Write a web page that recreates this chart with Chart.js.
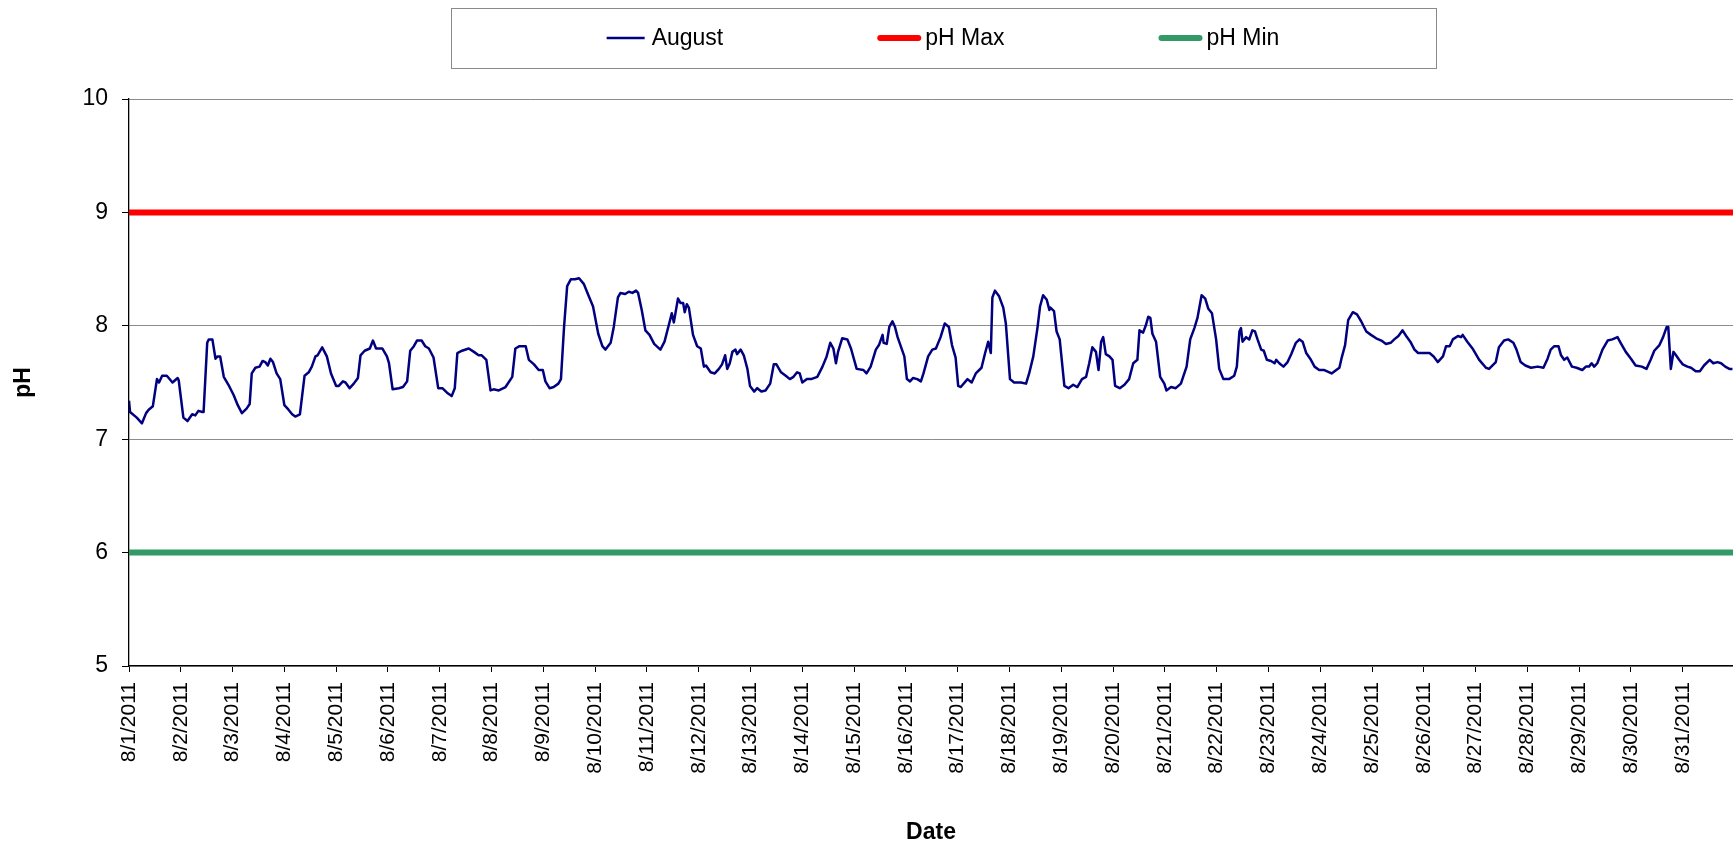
<!DOCTYPE html>
<html>
<head>
<meta charset="utf-8">
<title>pH - August 2011</title>
<script src="https://cdn.jsdelivr.net/npm/chart.js@4.4.1/dist/chart.umd.min.js"></script>
<style>
  html, body { margin: 0; padding: 0; background: #fff; }
  #wrap { width: 1733px; height: 846px; position: relative; }
</style>
</head>
<body>
<div id="wrap"><canvas id="phChart"></canvas></div>
<script>
const FONT = "'Liberation Sans', Arial, sans-serif";

// x axis tick labels (one per day)
const dateLabels = [
    '8/1/2011', '8/2/2011', '8/3/2011', '8/4/2011', '8/5/2011', '8/6/2011', '8/7/2011', '8/8/2011',
    '8/9/2011', '8/10/2011', '8/11/2011', '8/12/2011', '8/13/2011', '8/14/2011', '8/15/2011', '8/16/2011',
    '8/17/2011', '8/18/2011', '8/19/2011', '8/20/2011', '8/21/2011', '8/22/2011', '8/23/2011', '8/24/2011',
    '8/25/2011', '8/26/2011', '8/27/2011', '8/28/2011', '8/29/2011', '8/30/2011', '8/31/2011'
];

// time of each reading, in days since 8/1/2011 00:00
const days = [
    0.00, 0.02, 0.15, 0.25, 0.33, 0.38, 0.46, 0.54, 0.58, 0.64, 0.73, 0.84, 0.94, 0.96,
    1.05, 1.13, 1.22, 1.28, 1.34, 1.42, 1.44, 1.51, 1.54, 1.61, 1.67, 1.71, 1.76, 1.83, 1.92,
    2.02, 2.10, 2.18, 2.27, 2.33, 2.37, 2.44, 2.52, 2.58, 2.63, 2.68, 2.73, 2.78, 2.85, 2.92,
    3.00, 3.08, 3.15, 3.21, 3.30, 3.39, 3.47, 3.53, 3.60, 3.64, 3.73, 3.82, 3.90,
    4.00, 4.05, 4.13, 4.18, 4.26, 4.34, 4.42, 4.47, 4.55, 4.65, 4.71, 4.77, 4.89, 4.98,
    5.02, 5.09, 5.21, 5.29, 5.37, 5.43, 5.50, 5.56, 5.65, 5.72, 5.79, 5.88, 5.97,
    6.05, 6.14, 6.23, 6.29, 6.34, 6.43, 6.56, 6.66, 6.75, 6.81, 6.90, 6.98,
    7.04, 7.14, 7.27, 7.40, 7.46, 7.54, 7.66, 7.72, 7.82, 7.91, 7.99,
    8.04, 8.12, 8.20, 8.29, 8.34, 8.40, 8.46, 8.53, 8.61, 8.69, 8.78, 8.87, 8.96,
    9.06, 9.14, 9.20, 9.30, 9.36, 9.44, 9.49, 9.58, 9.65, 9.72, 9.79, 9.83, 9.90, 9.97,
    10.05, 10.14, 10.26, 10.34, 10.43, 10.48, 10.52, 10.60, 10.65, 10.70, 10.73, 10.77, 10.81, 10.89, 10.97,
    11.04, 11.10, 11.14, 11.23, 11.31, 11.39, 11.45, 11.51, 11.55, 11.60, 11.65, 11.71, 11.74, 11.81, 11.87, 11.94, 11.99,
    12.07, 12.13, 12.21, 12.29, 12.38, 12.45, 12.50, 12.59, 12.68, 12.76, 12.83, 12.90, 12.95,
    13.00, 13.09, 13.17, 13.29, 13.39, 13.47, 13.54, 13.60, 13.65, 13.69, 13.77, 13.87, 13.94,
    14.05, 14.18, 14.24, 14.32, 14.42, 14.48, 14.55, 14.57, 14.63, 14.68, 14.74, 14.79, 14.84, 14.97,
    15.02, 15.08, 15.14, 15.22, 15.29, 15.34, 15.43, 15.51, 15.58, 15.67, 15.75, 15.83, 15.89, 15.96,
    16.01, 16.06, 16.19, 16.27, 16.35, 16.46, 16.53, 16.59, 16.64, 16.67, 16.72, 16.80, 16.88, 16.93,
    17.01, 17.09, 17.22, 17.32, 17.38, 17.46, 17.54, 17.59, 17.65, 17.72, 17.77, 17.79, 17.86, 17.91, 17.97,
    18.06, 18.14, 18.23, 18.31, 18.40, 18.48, 18.54, 18.60, 18.67, 18.72, 18.77, 18.81, 18.86, 18.93, 18.99,
    19.04, 19.13, 19.22, 19.31, 19.39, 19.47, 19.51, 19.58, 19.63, 19.68, 19.72, 19.76, 19.83, 19.91, 19.99,
    20.03, 20.12, 20.21, 20.31, 20.42, 20.49, 20.57, 20.63, 20.71, 20.78, 20.84, 20.91, 20.99,
    21.05, 21.13, 21.24, 21.34, 21.39, 21.44, 21.47, 21.50, 21.57, 21.63, 21.69, 21.74, 21.79, 21.86, 21.91, 21.97,
    22.05, 22.12, 22.15, 22.21, 22.29, 22.37, 22.44, 22.53, 22.60, 22.66, 22.73, 22.82, 22.89, 22.98,
    23.08, 23.22, 23.31, 23.37, 23.41, 23.48, 23.54, 23.63, 23.71, 23.79, 23.89, 23.98,
    24.08, 24.18, 24.27, 24.36, 24.43, 24.51, 24.59, 24.66, 24.74, 24.82, 24.89,
    25.01, 25.11, 25.19, 25.27, 25.37, 25.43, 25.50, 25.56, 25.66, 25.72, 25.75, 25.84, 25.94,
    26.07, 26.20, 26.26, 26.39, 26.45, 26.55, 26.63, 26.73, 26.79, 26.87, 26.96,
    27.07, 27.20, 27.31, 27.39, 27.45, 27.52, 27.60, 27.65, 27.71, 27.77, 27.86, 27.95,
    28.06, 28.13, 28.19, 28.24, 28.29, 28.35, 28.45, 28.55, 28.64, 28.74, 28.80, 28.90,
    29.00, 29.09, 29.21, 29.30, 29.38, 29.45, 29.55, 29.62, 29.69, 29.72, 29.77, 29.82, 29.87, 29.93,
    30.00, 30.09, 30.16, 30.25, 30.33, 30.41, 30.52, 30.59, 30.67, 30.74, 30.82, 30.90, 30.96
];

// pH readings for August
const phAugust = [
    7.34, 7.24, 7.19, 7.14, 7.23, 7.26, 7.29, 7.53, 7.50, 7.56, 7.56, 7.50, 7.54, 7.52,
    7.19, 7.16, 7.22, 7.21, 7.25, 7.24, 7.24, 7.85, 7.88, 7.88, 7.71, 7.73, 7.73, 7.55, 7.48,
    7.39, 7.30, 7.23, 7.27, 7.31, 7.58, 7.63, 7.64, 7.69, 7.68, 7.65, 7.71, 7.68, 7.58, 7.53,
    7.30, 7.26, 7.22, 7.20, 7.22, 7.56, 7.59, 7.64, 7.73, 7.74, 7.81, 7.73, 7.58,
    7.47, 7.47, 7.51, 7.50, 7.45, 7.49, 7.54, 7.74, 7.78, 7.80, 7.87, 7.80, 7.80, 7.73,
    7.67, 7.44, 7.45, 7.46, 7.51, 7.78, 7.82, 7.87, 7.87, 7.82, 7.80, 7.72, 7.45,
    7.45, 7.41, 7.38, 7.45, 7.76, 7.78, 7.80, 7.77, 7.74, 7.74, 7.70, 7.43,
    7.44, 7.43, 7.46, 7.55, 7.80, 7.82, 7.82, 7.70, 7.66, 7.61, 7.61,
    7.51, 7.45, 7.46, 7.49, 7.53, 7.99, 8.35, 8.41, 8.41, 8.42, 8.37, 8.27, 8.17,
    7.93, 7.82, 7.79, 7.85, 7.99, 8.25, 8.29, 8.28, 8.30, 8.29, 8.31, 8.29, 8.14, 7.96,
    7.92, 7.84, 7.79, 7.86, 8.02, 8.11, 8.03, 8.24, 8.20, 8.20, 8.12, 8.19, 8.16, 7.92, 7.82,
    7.80, 7.64, 7.65, 7.59, 7.58, 7.62, 7.66, 7.74, 7.62, 7.67, 7.77, 7.79, 7.75, 7.79, 7.74, 7.62, 7.47,
    7.42, 7.45, 7.42, 7.43, 7.49, 7.66, 7.66, 7.59, 7.56, 7.53, 7.55, 7.59, 7.58,
    7.50, 7.53, 7.53, 7.55, 7.64, 7.73, 7.85, 7.80, 7.67, 7.77, 7.89, 7.88, 7.80,
    7.62, 7.61, 7.58, 7.64, 7.79, 7.83, 7.92, 7.85, 7.84, 7.99, 8.04, 7.99, 7.90, 7.73,
    7.53, 7.51, 7.54, 7.53, 7.51, 7.58, 7.73, 7.79, 7.80, 7.90, 8.02, 7.99, 7.83, 7.72,
    7.47, 7.46, 7.53, 7.50, 7.58, 7.63, 7.76, 7.86, 7.76, 8.25, 8.31, 8.26, 8.16, 8.02,
    7.53, 7.50, 7.50, 7.49, 7.58, 7.73, 7.98, 8.17, 8.27, 8.23, 8.14, 8.16, 8.13, 7.95, 7.88,
    7.47, 7.45, 7.48, 7.46, 7.53, 7.55, 7.67, 7.81, 7.77, 7.61, 7.86, 7.90, 7.75, 7.73, 7.70,
    7.47, 7.45, 7.48, 7.53, 7.67, 7.70, 7.96, 7.94, 8.00, 8.08, 8.07, 7.93, 7.86, 7.55, 7.49,
    7.43, 7.46, 7.45, 7.49, 7.64, 7.88, 7.98, 8.07, 8.27, 8.24, 8.15, 8.11, 7.88,
    7.62, 7.53, 7.53, 7.56, 7.64, 7.95, 7.98, 7.86, 7.90, 7.88, 7.96, 7.95, 7.88, 7.79, 7.78, 7.70,
    7.69, 7.67, 7.70, 7.67, 7.64, 7.68, 7.75, 7.85, 7.88, 7.86, 7.76, 7.70, 7.64, 7.61,
    7.61, 7.58, 7.61, 7.63, 7.71, 7.83, 8.05, 8.12, 8.10, 8.04, 7.95, 7.92,
    7.89, 7.87, 7.84, 7.85, 7.88, 7.91, 7.96, 7.91, 7.86, 7.79, 7.76,
    7.76, 7.76, 7.73, 7.68, 7.73, 7.82, 7.82, 7.88, 7.91, 7.90, 7.92, 7.86, 7.80,
    7.70, 7.63, 7.62, 7.68, 7.81, 7.87, 7.88, 7.85, 7.79, 7.68, 7.65,
    7.63, 7.64, 7.63, 7.71, 7.79, 7.82, 7.82, 7.74, 7.70, 7.72, 7.64, 7.63,
    7.61, 7.64, 7.64, 7.67, 7.64, 7.67, 7.79, 7.87, 7.88, 7.90, 7.85, 7.77,
    7.71, 7.65, 7.64, 7.62, 7.70, 7.78, 7.83, 7.90, 7.99, 7.99, 7.62, 7.77, 7.74, 7.70,
    7.66, 7.64, 7.63, 7.60, 7.60, 7.65, 7.70, 7.67, 7.68, 7.67, 7.64, 7.62, 7.62
];

// limit lines
const limitDays = [0, 31];
const phMax = [9, 9];
const phMin = [6, 6];

// draws the framed legend above the plot, like the spreadsheet original
const boxedLegend = {
    id: 'boxedLegend',
    afterDraw(chart, args, opts) {
        const ctx = chart.ctx;
        const items = chart.data.datasets;
        ctx.save();
        ctx.font = opts.font;
        const widths = items.map(ds => opts.sampleLength + opts.textGap + ctx.measureText(ds.label).width);
        const total = widths.reduce((a, b) => a + b, 0) + opts.itemGap * (items.length - 1);
        let x = opts.centerX - total / 2;
        const midY = opts.top + opts.height / 2;

        ctx.strokeStyle = opts.borderColor;
        ctx.lineWidth = 1;
        ctx.strokeRect(Math.round(x - opts.sidePadding) + 0.5, opts.top + 0.5,
            Math.round(total + 2 * opts.sidePadding), opts.height);

        items.forEach((ds, i) => {
            ctx.beginPath();
            ctx.strokeStyle = ds.borderColor;
            ctx.lineWidth = ds.borderWidth;
            ctx.lineCap = ds.borderWidth > 3 ? 'round' : 'butt';
            ctx.moveTo(x, midY);
            ctx.lineTo(x + opts.sampleLength, midY);
            ctx.stroke();
            ctx.fillStyle = '#000';
            ctx.textBaseline = 'middle';
            ctx.fillText(ds.label, x + opts.sampleLength + opts.textGap, midY + 1);
            x += widths[i] + opts.itemGap;
        });
        ctx.restore();
    }
};

document.addEventListener('DOMContentLoaded', function() {
    const ctx = document.getElementById('phChart').getContext('2d');

    new Chart(ctx, {
        type: 'line',
        data: {
            datasets: [{
                label: 'August',
                data: days.map((d, i) => ({ x: d, y: phAugust[i] })),
                borderColor: '#000080',
                borderWidth: 2.5,
                borderJoinStyle: 'round',
                pointRadius: 0,
                fill: false
            }, {
                label: 'pH Max',
                data: limitDays.map((d, i) => ({ x: d, y: phMax[i] })),
                borderColor: '#ff0000',
                borderWidth: 6,
                pointRadius: 0,
                fill: false
            }, {
                label: 'pH Min',
                data: limitDays.map((d, i) => ({ x: d, y: phMin[i] })),
                borderColor: '#339966',
                borderWidth: 6,
                pointRadius: 0,
                fill: false
            }]
        },
        plugins: [boxedLegend],
        options: {
            responsive: true,
            maintainAspectRatio: false,
            animation: false,
            layout: {
                padding: { top: 99, right: 0, bottom: 0, left: 0 }
            },
            plugins: {
                legend: { display: false },
                tooltip: { enabled: false },
                boxedLegend: {
                    font: '23px ' + FONT,
                    centerX: 943,
                    top: 8,
                    height: 60,
                    sampleLength: 38,
                    textGap: 7,
                    itemGap: 157,
                    sidePadding: 156,
                    borderColor: '#8a8a8a'
                }
            },
            scales: {
                x: {
                    type: 'linear',
                    min: 0,
                    max: 30.97,
                    afterBuildTicks: scale => {
                        scale.ticks = dateLabels.map((_, i) => ({ value: i }));
                    },
                    afterFit: scale => {
                        scale.height = 180;
                    },
                    ticks: {
                        autoSkip: false,
                        minRotation: 90,
                        maxRotation: 90,
                        padding: 10,
                        color: '#000',
                        font: { family: FONT, size: 21 },
                        callback: value => dateLabels[value]
                    },
                    grid: {
                        drawOnChartArea: false,
                        tickLength: 6,
                        tickColor: '#000'
                    },
                    border: { color: '#000', width: 1.3 },
                    title: {
                        display: true,
                        text: 'Date',
                        color: '#000',
                        font: { family: FONT, size: 23, weight: 'bold' },
                        padding: { top: 0, bottom: 0 }
                    }
                },
                y: {
                    min: 5,
                    max: 10,
                    afterFit: scale => {
                        scale.width = 129;
                    },
                    ticks: {
                        stepSize: 1,
                        padding: 14,
                        color: '#000',
                        font: { family: FONT, size: 23 }
                    },
                    grid: {
                        color: '#8c8c8c',
                        tickColor: '#000',
                        tickLength: 7
                    },
                    border: { color: '#000', width: 1.3 },
                    title: {
                        display: true,
                        text: 'pH',
                        color: '#000',
                        font: { family: FONT, size: 23, weight: 'bold' },
                        padding: { top: 10, bottom: 0 }
                    }
                }
            }
        }
    });
});
</script>
</body>
</html>
